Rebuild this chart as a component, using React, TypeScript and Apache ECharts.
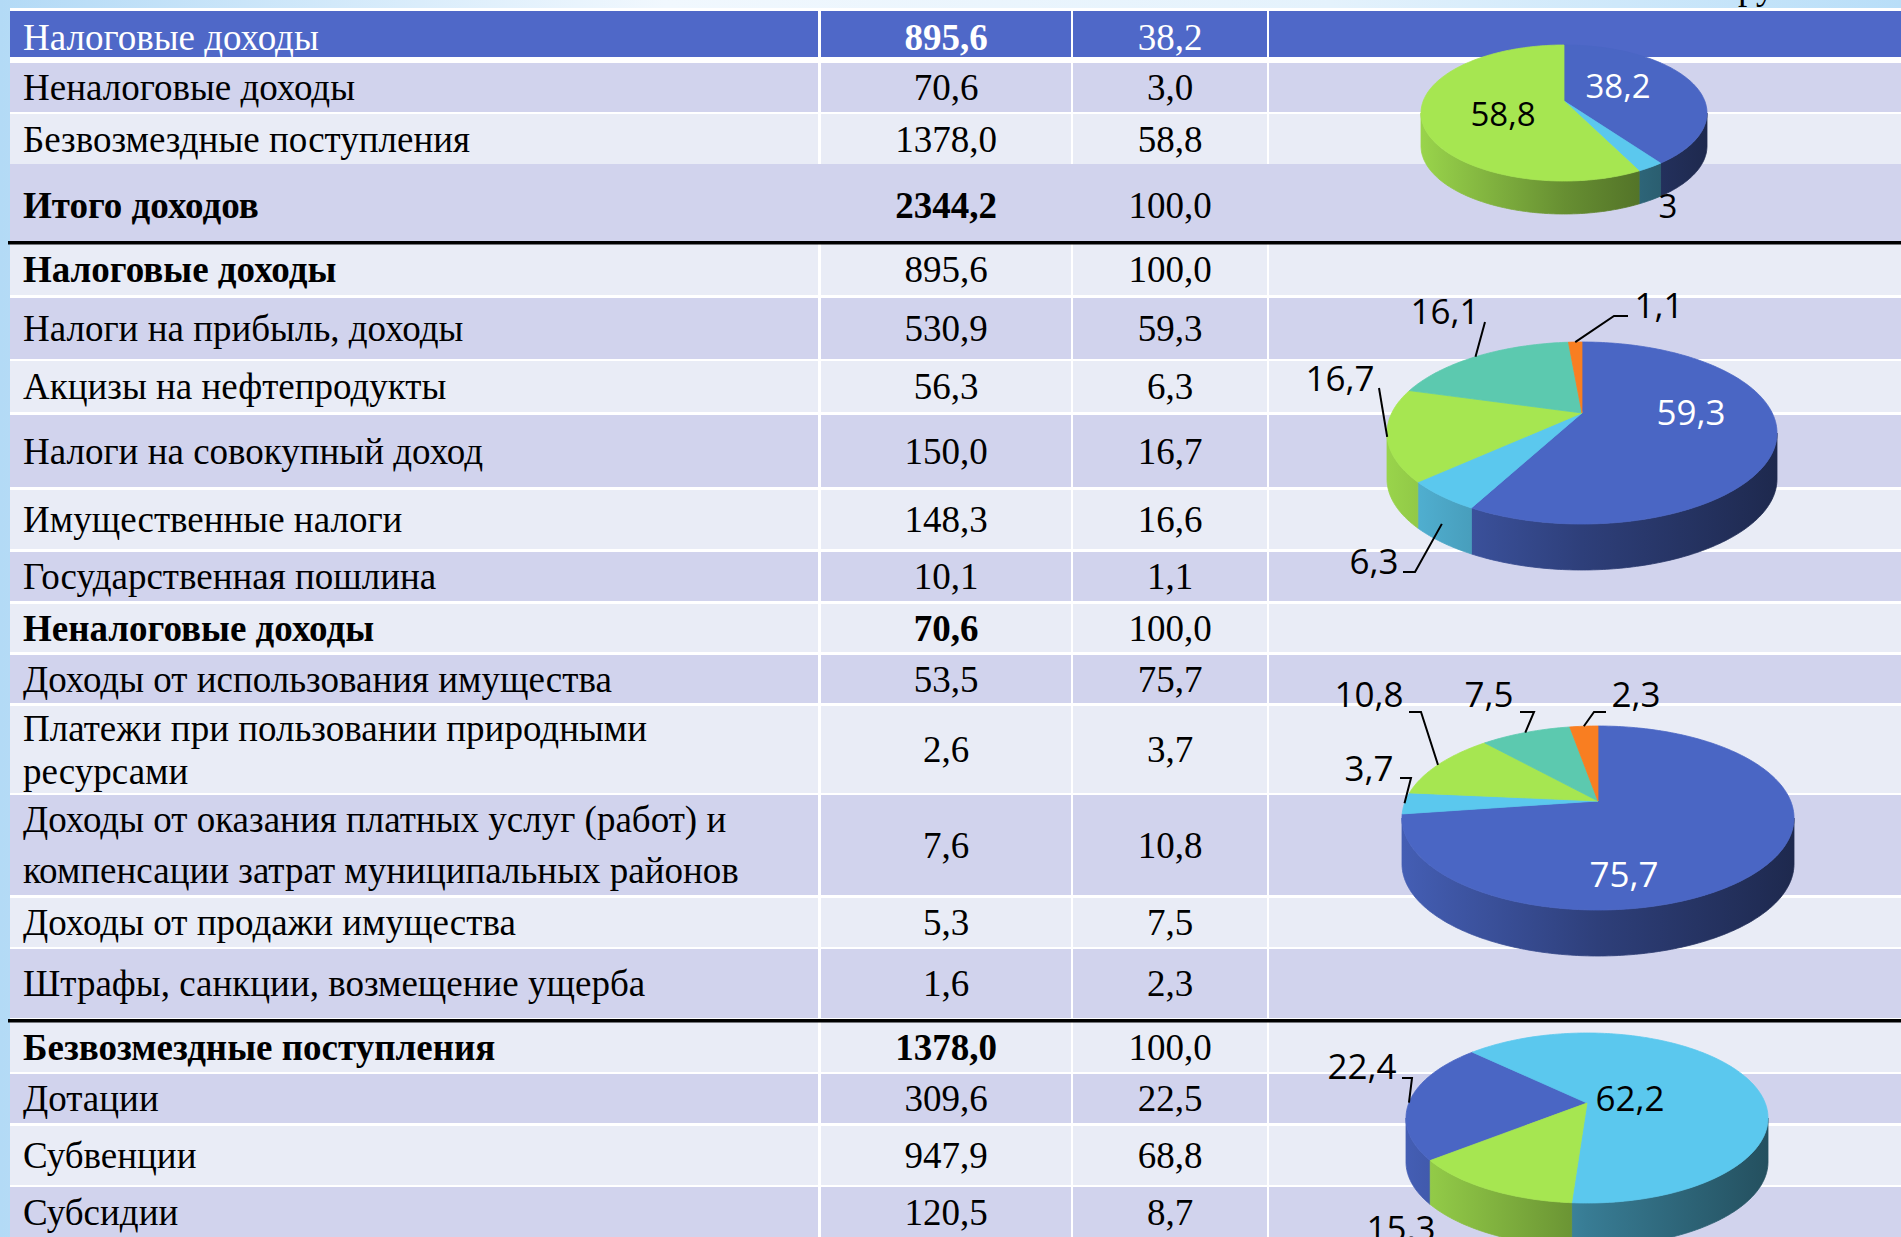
import React, { useEffect, useRef } from "react";
import * as echarts from "echarts";

// ---------------- DATA ----------------
const rowLabels = [
  "Налоговые доходы",
  "Неналоговые доходы",
  "Безвозмездные поступления",
  "Итого доходов",
  "Налоговые доходы",
  "Налоги на прибыль, доходы",
  "Акцизы на нефтепродукты",
  "Налоги на совокупный доход",
  "Имущественные налоги",
  "Государственная пошлина",
  "Неналоговые доходы",
  "Доходы от использования имущества",
  "Платежи при пользовании природными\nресурсами",
  "Доходы от оказания платных услуг (работ) и\nкомпенсации затрат муниципальных районов",
  "Доходы от продажи имущества",
  "Штрафы, санкции, возмещение ущерба",
  "Безвозмездные поступления",
  "Дотации",
  "Субвенции",
  "Субсидии",
];
const rowAmounts = [
  "895,6", "70,6", "1378,0", "2344,2", "895,6", "530,9", "56,3", "150,0", "148,3", "10,1",
  "70,6", "53,5", "2,6", "7,6", "5,3", "1,6", "1378,0", "309,6", "947,9", "120,5",
];
const rowShares = [
  "38,2", "3,0", "58,8", "100,0", "100,0", "59,3", "6,3", "16,7", "16,6", "1,1",
  "100,0", "75,7", "3,7", "10,8", "7,5", "2,3", "100,0", "22,5", "68,8", "8,7",
];
const labelBold = [false, false, false, true, true, false, false, false, false, false, true, false, false, false, false, false, true, false, false, false];
const amountBold = [true, false, false, true, false, false, false, false, false, false, true, false, false, false, false, false, true, false, false, false];
const unitText = "млн руб.";

const pie1Values = [38.2, 3.0, 58.8];
const pie1Labels = ["38,2", "3", "58,8"];
const pie2Values = [59.3, 6.3, 16.7, 16.1, 1.1];
const pie2Labels = ["59,3", "6,3", "16,7", "16,1", "1,1"];
const pie3Values = [75.7, 3.7, 10.8, 7.5, 2.3];
const pie3Labels = ["75,7", "3,7", "10,8", "7,5", "2,3"];
const pie4Values = [22.4, 62.2, 15.3];
const pie4Labels = ["22,4", "62,2", "15,3"];

// ---------------- LAYOUT / STYLE ----------------
const W = 1901;
const H = 1237;
const TABLE_X = 10;
const ROW_TOP = [11, 63, 114, 164, 244, 298, 361, 415, 490, 552, 604, 655, 706, 795, 898, 949, 1022, 1074, 1126, 1187];
const ROW_BOTTOM = [57, 112, 164, 241, 295, 359, 412, 487, 549, 601, 652, 703, 793, 895, 947, 1018, 1072, 1123, 1185, 1240];
const TEXT_SHIFT: Record<number, number> = { 0: 3, 3: 3 };
const LINE_HEIGHTS: Record<number, number> = { 12: 43, 13: 51 };
const COLS = [
  [TABLE_X, 818],
  [821, 1071],
  [1073, 1267],
  [1269, W],
];
const FULL_ROWS = [3];
const BLACK_LINES = [241, 1019];
const TEXT_X = 23;
const AMOUNT_X = 946;
const SHARE_X = 1170;

const HEADER_BG = "#4F68C8";
const LAV_BG = "#D1D3ED";
const LIGHT_BG = "#E9ECF6";
const SERIF = "'Liberation Serif', 'Times New Roman', serif";
const SANS = "'Open Sans', 'Noto Sans', sans-serif";
const TABLE_FONT = 37;

const BLUE = "#4A66C4";
const LBLUE = "#5BC8EE";
const GREEN = "#A6E651";
const TEAL = "#5CC9AF";
const ORANGE = "#F97E21";

type Geo = { cx: number; cy: number; rx: number; ry: number; depth: number; off: number; start: number };
type LabelPos = { x: number; y: number; color: string; leader?: number[][] };

const DEG = Math.PI / 180;
const geo1: Geo = { cx: 1564, cy: 113, rx: 143, ry: 68, depth: 33, off: 12, start: 0 };
const geo2: Geo = { cx: 1582, cy: 433, rx: 195, ry: 91, depth: 46, off: 20, start: 0 };
const geo3: Geo = { cx: 1598, cy: 818, rx: 196, ry: 92, depth: 46, off: 17, start: 0 };
const geo4: Geo = { cx: 1587, cy: 1118, rx: 181, ry: 85, depth: 44, off: 15, start: 240 * DEG };

const layout1: LabelPos[] = [
  { x: 1618, y: 85, color: "#fff" },
  { x: 1668, y: 205, color: "#000" },
  { x: 1503, y: 113, color: "#000" },
];
const layout2: LabelPos[] = [
  { x: 1691, y: 411, color: "#fff" },
  { x: 1374, y: 560, color: "#000", leader: [[1403, 572], [1415, 572]] },
  { x: 1340, y: 377, color: "#000", leader: [[1379, 388]] },
  { x: 1445, y: 310, color: "#000", leader: [[1485, 322]] },
  { x: 1659, y: 304, color: "#000", leader: [[1628, 316], [1614, 316]] },
];
const layout3: LabelPos[] = [
  { x: 1624, y: 873, color: "#fff" },
  { x: 1369, y: 767, color: "#000", leader: [[1400, 778], [1411, 778]] },
  { x: 1369, y: 693, color: "#000", leader: [[1409, 712], [1421, 712]] },
  { x: 1489, y: 693, color: "#000", leader: [[1520, 712], [1534, 712]] },
  { x: 1636, y: 693, color: "#000", leader: [[1606, 712], [1594, 712]] },
];
const layout4: LabelPos[] = [
  { x: 1362, y: 1065, color: "#000", leader: [[1402, 1078], [1412, 1078]] },
  { x: 1630, y: 1097, color: "#000" },
  { x: 1401, y: 1227, color: "#000" },
];

function shade(hex: string, f: number): string {
  const n = parseInt(hex.slice(1), 16);
  const r = Math.round(((n >> 16) & 255) * f);
  const g = Math.round(((n >> 8) & 255) * f);
  const b = Math.round((n & 255) * f);
  return `rgb(${r},${g},${b})`;
}

function piePoint(g: Geo, th: number, dy = 0): number[] {
  return [g.cx + g.rx * Math.sin(th), g.cy - g.ry * Math.cos(th) + dy];
}

function arcPoints(g: Geo, a: number, b: number, dy = 0): number[][] {
  const n = Math.max(2, Math.ceil(Math.abs(b - a) / DEG));
  const pts: number[][] = [];
  for (let k = 0; k <= n; k++) pts.push(piePoint(g, a + ((b - a) * k) / n, dy));
  return pts;
}

function pieSeries(values: number[], labels: string[], colors: string[], g: Geo, lay: LabelPos[], fontSize: number) {
  const total = values.reduce((s, v) => s + v, 0);
  let acc = 0;
  const data = values.map((v) => {
    const s = acc;
    acc += v;
    return [v, s / total, acc / total];
  });
  return {
    type: "custom",
    coordinateSystem: "none",
    silent: true,
    z: 5,
    data,
    renderItem: (params: any, api: any) => {
      const i = params.dataIndex;
      const a = g.start + api.value(1) * 2 * Math.PI;
      const b = g.start + api.value(2) * 2 * Math.PI;
      const col = colors[i];
      const grad = new echarts.graphic.LinearGradient(
        g.cx - g.rx, 0, g.cx + g.rx, 0,
        [
          { offset: 0, color: shade(col, 0.92) },
          { offset: 0.5, color: shade(col, 0.62) },
          { offset: 1, color: shade(col, 0.4) },
        ],
        true
      );
      const children: any[] = [];
      for (const k of [0, 1]) {
        const lo = Math.PI / 2 + k * 2 * Math.PI;
        const hi = (3 * Math.PI) / 2 + k * 2 * Math.PI;
        const s = Math.max(a, lo);
        const e = Math.min(b, hi);
        if (e > s) {
          const pts = arcPoints(g, s, e, 0).concat(arcPoints(g, e, s, g.depth));
          children.push({
            type: "polygon",
            shape: { points: pts },
            style: { fill: grad, stroke: grad, lineWidth: 0.8 },
            z2: 1,
          });
        }
      }
      const topPts = [[g.cx, g.cy - g.off]].concat(arcPoints(g, a, b, 0));
      children.push({
        type: "polygon",
        shape: { points: topPts },
        style: { fill: col, stroke: col, lineWidth: 0.8 },
        z2: 2,
      });
      const L = lay[i];
      if (L) {
        if (L.leader) {
          const m = (a + b) / 2;
          const p = piePoint(g, m, Math.cos(m) < -0.3 ? g.depth * 0.6 : 0);
          children.push({
            type: "polyline",
            shape: { points: L.leader.concat([p]) },
            style: { stroke: "#000", lineWidth: 2, fill: null },
            z2: 50,
          });
        }
        children.push({
          type: "text",
          style: {
            x: L.x,
            y: L.y,
            text: labels[i],
            fill: L.color,
            fontSize,
            fontFamily: SANS,
            align: "center",
            verticalAlign: "middle",
          },
          z2: 100,
        });
      }
      return { type: "group", children };
    },
  };
}

function buildGraphics() {
  const els: any[] = [];
  els.push({
    type: "rect",
    shape: { x: 0, y: 0, width: W, height: H },
    style: {
      fill: new echarts.graphic.LinearGradient(0, 0, 1, 0, [
        { offset: 0, color: "#B3DAF6" },
        { offset: 0.35, color: "#F1F8FE" },
        { offset: 0.7, color: "#E4F2FC" },
        { offset: 1, color: "#B8DEF8" },
      ]),
    },
    silent: true,
  });
  els.push({
    type: "text",
    style: {
      x: 1667,
      y: 5,
      text: unitText,
      fill: "#000",
      fontFamily: SERIF,
      fontSize: TABLE_FONT,
      align: "left",
      verticalAlign: "bottom",
    },
  });
  els.push({
    type: "rect",
    shape: { x: TABLE_X, y: 8, width: W - TABLE_X, height: H - 8 },
    style: { fill: "#FFFFFF" },
    silent: true,
  });
  rowLabels.forEach((label, r) => {
    const top = ROW_TOP[r];
    const bottom = ROW_BOTTOM[r];
    const fill = r === 0 ? HEADER_BG : r % 2 === 1 ? LAV_BG : LIGHT_BG;
    if (FULL_ROWS.includes(r)) {
      els.push({ type: "rect", shape: { x: TABLE_X, y: top, width: W - TABLE_X, height: bottom - top }, style: { fill }, silent: true });
    } else {
      COLS.forEach(([x0, x1]) => {
        els.push({ type: "rect", shape: { x: x0, y: top, width: x1 - x0, height: bottom - top }, style: { fill }, silent: true });
      });
    }
    const cy = (top + Math.min(bottom, H)) / 2 + (TEXT_SHIFT[r] || 0);
    const color = r === 0 ? "#FFFFFF" : "#000000";
    els.push({
      type: "text",
      z: 3,
      style: {
        x: TEXT_X,
        y: cy,
        text: label,
        fill: color,
        fontFamily: SERIF,
        fontSize: TABLE_FONT,
        fontWeight: labelBold[r] ? "bold" : "normal",
        lineHeight: LINE_HEIGHTS[r] || TABLE_FONT * 1.2,
        align: "left",
        verticalAlign: "middle",
      },
    });
    els.push({
      type: "text",
      z: 3,
      style: {
        x: AMOUNT_X,
        y: cy,
        text: rowAmounts[r],
        fill: color,
        fontFamily: SERIF,
        fontSize: TABLE_FONT,
        fontWeight: amountBold[r] ? "bold" : "normal",
        align: "center",
        verticalAlign: "middle",
      },
    });
    els.push({
      type: "text",
      z: 3,
      style: {
        x: SHARE_X,
        y: cy,
        text: rowShares[r],
        fill: color,
        fontFamily: SERIF,
        fontSize: TABLE_FONT,
        align: "center",
        verticalAlign: "middle",
      },
    });
  });
  BLACK_LINES.forEach((y) => {
    els.push({ type: "rect", shape: { x: TABLE_X - 2, y, width: W - TABLE_X + 2, height: 3.5 }, style: { fill: "#000" }, silent: true });
  });
  return els;
}

export default function App() {
  const ref = useRef<HTMLDivElement>(null);
  useEffect(() => {
    if (!ref.current) return;
    const chart = echarts.init(ref.current, undefined, { renderer: "svg", width: W, height: H });
    chart.setOption({
      animation: false,
      graphic: { elements: buildGraphics() },
      series: [
        pieSeries(pie1Values, pie1Labels, [BLUE, LBLUE, GREEN], geo1, layout1, 33),
        pieSeries(pie2Values, pie2Labels, [BLUE, LBLUE, GREEN, TEAL, ORANGE], geo2, layout2, 35),
        pieSeries(pie3Values, pie3Labels, [BLUE, LBLUE, GREEN, TEAL, ORANGE], geo3, layout3, 35),
        pieSeries(pie4Values, pie4Labels, [BLUE, LBLUE, GREEN], geo4, layout4, 35),
      ],
    });
    return () => chart.dispose();
  }, []);
  return <div ref={ref} style={{ position: "absolute", left: 0, top: 0, width: W, height: H, overflow: "hidden" }} />;
}
